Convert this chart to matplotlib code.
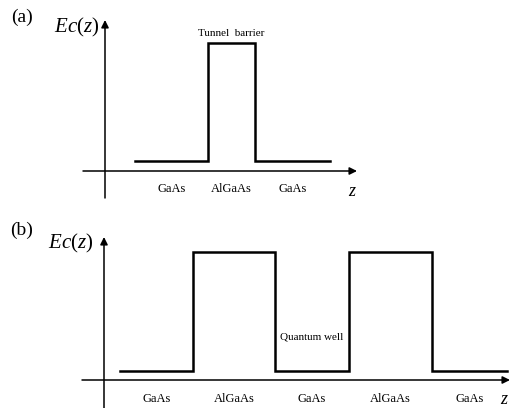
import numpy as np
import matplotlib
matplotlib.use('Agg')
import matplotlib.pyplot as plt

plt.rcParams['font.family'] = ['Liberation Serif', 'DejaVu Serif']
plt.rcParams['mathtext.fontset'] = 'custom'
plt.rcParams['mathtext.rm'] = 'Liberation Serif'
plt.rcParams['mathtext.it'] = 'Liberation Serif:italic'

# (a) single tunnel barrier: layer boundaries along z and band edge of each layer
z_a = [0.30, 1.03, 1.50, 2.25]
ec_a = [0.10, 1.28, 0.10]
layers_a = ['GaAs', 'AlGaAs', 'GaAs']

# (b) double barrier / quantum well
z_b = [0.16, 0.89, 1.71, 2.45, 3.28, 4.03]
ec_b = [0.09, 1.28, 0.09, 1.28, 0.09]
layers_b = ['GaAs', 'AlGaAs', 'GaAs', 'AlGaAs', 'GaAs']

W, H = 511, 408
fig = plt.figure(figsize=(W / 100, H / 100), dpi=100)


def px_axes(x0, x1, y0, y1):
    # axes placed by pixel box (y measured from top)
    return fig.add_axes([x0 / W, 1 - y1 / H, (x1 - x0) / W, (y1 - y0) / H])


def draw_panel(ax, z, ec, layers, xmin, xtip, ymin, ytip, zlab_x,
               note, note_z, note_y):
    ax.axis('off')
    arrow = dict(arrowstyle='-|>', lw=1.1, color='k', mutation_scale=11,
                 shrinkA=0, shrinkB=0)
    ax.annotate('', xy=(xtip, 0), xytext=(xmin, 0), arrowprops=arrow)
    ax.annotate('', xy=(0, ytip), xytext=(0, ymin), arrowprops=arrow)
    # step profile of Ec(z)
    xs = np.repeat(z, 2)[1:-1]
    ys = np.repeat(ec, 2)
    ax.plot(xs, ys, color='k', lw=1.8, solid_joinstyle='miter')
    centers = [(z[i] + z[i + 1]) / 2 for i in range(len(layers))]
    for c, name in zip(centers, layers):
        ax.text(c, -0.185, name, ha='center', va='center', fontsize=9)
    ax.text(zlab_x, -0.20, '$z$', ha='center', va='center', fontsize=13,
            clip_on=False)
    ax.text(note_z, note_y, note, ha='center', va='center', fontsize=8)


ax_a = px_axes(80, 370, 10, 200)
draw_panel(ax_a, z_a, ec_a, layers_a, -0.22, 2.52, -0.27, 1.51, 2.47,
           'Tunnel  barrier', (z_a[1] + z_a[2]) / 2, ec_a[1] + 0.10)
ax_a.set_xlim(-0.25, 2.65)
ax_a.set_ylim(-0.29, 1.61)

ax_b = px_axes(80, 511, 227, 408)
draw_panel(ax_b, z_b, ec_b, layers_b, -0.22, 4.06, -0.28, 1.43, 4.00,
           'Quantum well', (z_b[2] + z_b[3]) / 2, 0.43)
ax_b.set_xlim(-0.24, 4.07)
ax_b.set_ylim(-0.28, 1.53)

fig.text(22 / W, 1 - 17 / H, '(a)', ha='center', va='center', fontsize=14)
fig.text(77 / W, 1 - 27 / H, '$Ec(z)$', ha='center', va='center', fontsize=15)
fig.text(22 / W, 1 - 230 / H, '(b)', ha='center', va='center', fontsize=14)
fig.text(71 / W, 1 - 243 / H, '$Ec(z)$', ha='center', va='center', fontsize=15)

fig.savefig('out.png', dpi=100)
